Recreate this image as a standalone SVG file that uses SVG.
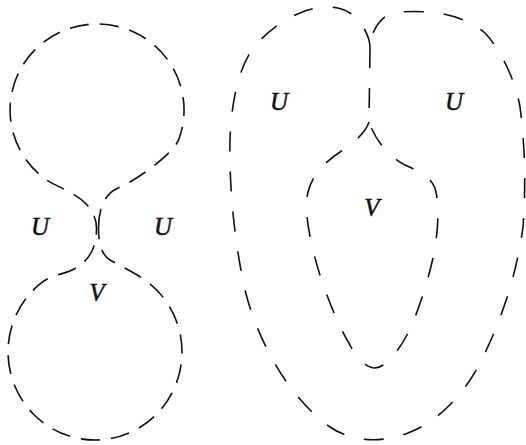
<svg xmlns="http://www.w3.org/2000/svg" width="526" height="445" viewBox="0 0 526 445">
<style>
.c{fill:none;stroke:#111;stroke-width:1.6;stroke-linecap:butt}
.l{stroke-dasharray:19 11}
.r{stroke-dasharray:20 20}
.t{font-family:"Liberation Serif","Times New Roman",serif;font-style:italic;font-size:25px;fill:#111;stroke:#111;stroke-width:0.5;text-anchor:middle}
</style>
<rect width="526" height="445" fill="#fff"/>
<g id="left-figure">
<path class="c l" d="M 98.5,228 C 98.5,210 104,194 118,188 C 138,179.5 173.5,153.5 178.8,139.4 A 87 86 0 1 0 47.1,180.4 C 60,189 96,198 96.5,228 C 96.5,250 88,262 72,270 C 62,275 52,274 39.1,284.6 A 87 88 0 1 0 144.9,279.9 C 132.6,271.2 120,266 110,260 C 102,255 98.5,245 98.5,228 Z"/>
</g>
<g id="right-figure">
<path class="c r" d="M 370,48 C 370,36 362,22 350,13 C 338,5 318,5 300,13 C 282,20 262,35 250,53 C 238,72 231,105 230,140 C 229,190 235,245 245,290 C 256,335 285,395 330,427 C 355,444 385,442 408,433 C 435,423 462,398 480,363 C 498,328 516,280 523,227 C 526,185 525,145 520,107 C 516,82 501,50 485,33 C 470,20 448,13 427,12 C 413,11 394,11 386,16 C 378,22 370,34 370,48"/>
<path class="c r" d="M 370,48 L 369,122"/>
<path class="c r" d="M 369,122 C 366,132 355,142 340,152 C 325,162 312,175 308,192 C 305,205 307,225 312,245 C 318,275 335,320 350,345 C 356,357 366,368 375,368 C 385,368 398,352 407,335 C 416,318 427,285 433,258 C 438,235 440,205 435,188 C 430,176 420,172 405,165 C 390,157 376,142 369,122 Z"/>
</g>
<g id="labels">
<text class="t" x="40" y="235">U</text>
<text class="t" x="163" y="235">U</text>
<text class="t" x="97" y="301">V</text>
<text class="t" x="279" y="110">U</text>
<text class="t" x="454" y="110">U</text>
<text class="t" x="372" y="216">V</text>
</g>
</svg>
